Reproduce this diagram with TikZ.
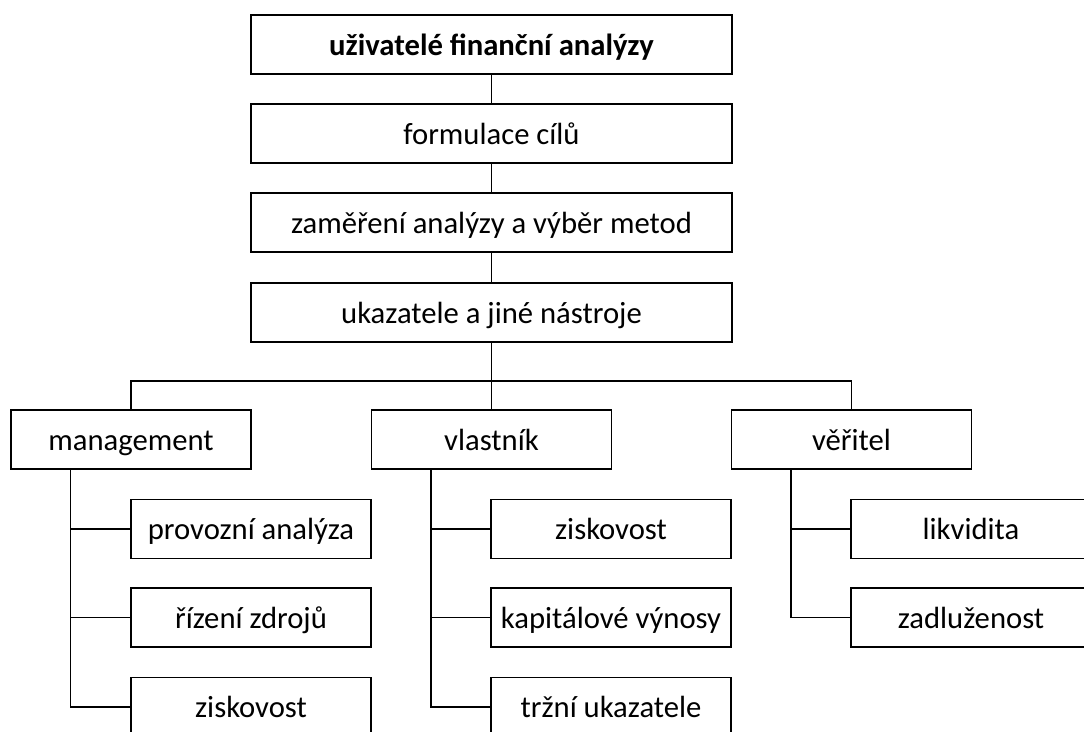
\documentclass[tikz,border=0pt]{standalone}
\usepackage{fontspec}
\setmainfont{Carlito}
\usepackage{tikz}
\usetikzlibrary{calc}

\begin{document}
\begin{tikzpicture}[x=0.75pt,y=0.75pt,yscale=-1,xscale=1,
  line width=1.1pt,
  box/.style={draw,line width=1.1pt,inner sep=0pt,minimum width=240*0.75pt,minimum height=59*0.75pt,
    text height=17.3pt,text depth=1.5pt,font=\fontsize{23}{28}\selectfont},
  widebox/.style={box,minimum width=481*0.75pt}]
\useasboundingbox (0,0) rectangle (1084,731);
% Top column
\node [widebox,font=\fontsize{23}{28}\selectfont\bfseries] (users) at (491.5,44.5) {uživatelé finanční analýzy};
\node [widebox] (goals) at (491.5,133.5) {formulace cílů};
\node [widebox] (focus) at (491.5,222.5) {zaměření analýzy a výběr metod};
\node [widebox] (tools) at (491.5,312.5) {ukazatele a jiné nástroje};
\draw (users) -- (goals);
\draw (goals) -- (focus);
\draw (focus) -- (tools);
% Second level
\node [box] (mgmt) at (131,439.5) {management};
\node [box] (owner) at (491.5,439.5) {vlastník};
\node [box] (creditor) at (851.5,439.5) {věřitel};
\coordinate (bus) at (491.5,381);
\draw (tools.south) -- (bus);
\draw (mgmt.north) |- (bus) -| (creditor.north);
\draw (owner.north) -- (bus);
% Management
\node [box] (oper) at (251,529) {provozní analýza};
\node [box] (resources) at (251,617.5) {řízení zdrojů};
\node [box] (profitA) at (251,707) {ziskovost};
\coordinate (mgmtS) at ($(mgmt.south west)!0.25!(mgmt.south east)$);
\draw (mgmtS) |- (oper.west);
\draw (mgmtS) |- (resources.west);
\draw (mgmtS) |- (profitA.west);
% Owner
\node [box] (profitB) at (611,529) {ziskovost};
\node [box] (capital) at (611,617.5) {kapitálové výnosy};
\node [box] (market) at (611,707) {tržní ukazatele};
\coordinate (ownerS) at ($(owner.south west)!0.25!(owner.south east)$);
\draw (ownerS) |- (profitB.west);
\draw (ownerS) |- (capital.west);
\draw (ownerS) |- (market.west);
% Creditor
\node [box] (liquid) at (971,529) {likvidita};
\node [box] (debt) at (971,617.5) {zadluženost};
\coordinate (creditorS) at ($(creditor.south west)!0.25!(creditor.south east)$);
\draw (creditorS) |- (liquid.west);
\draw (creditorS) |- (debt.west);
\end{tikzpicture}
\end{document}
